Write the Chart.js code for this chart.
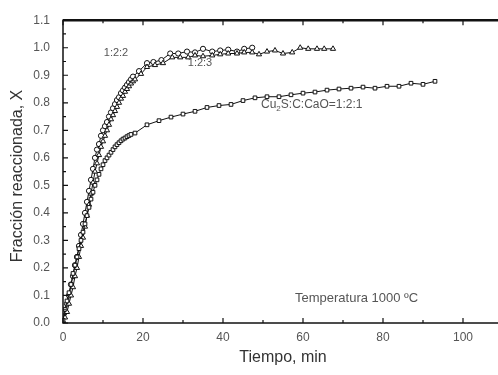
<!DOCTYPE html>
<html>
<head>
<meta charset="utf-8">
<script src="https://cdn.jsdelivr.net/npm/chart.js@4.4.0/dist/chart.umd.min.js"></script>
<style>
  html, body { margin: 0; padding: 0; background: #fff; overflow: hidden; }
  #grafica { display: block; }
</style>
</head>
<body>
<canvas id="grafica" width="510" height="375"></canvas>
<script>
// tiempo (min) y fraccion reaccionada X
var tiempo122 = [0, 0.5, 1, 1.5, 2, 2.5, 3, 3.5, 4, 4.5, 5, 5.5, 6, 6.5, 7, 7.5, 8, 8.5, 9, 9.5,
	10, 10.5, 11, 11.5, 12, 12.5, 13, 13.5, 14, 14.5, 15, 15.5, 16, 16.5, 17, 17.5,
	19, 21, 22.6, 24.6, 26.8, 28.8, 31, 33, 35, 37.3, 39.3, 41.3, 43.5, 45.3, 47.3];
var fraccion122 = [0.00, 0.04, 0.07, 0.10, 0.14, 0.17, 0.21, 0.24, 0.28, 0.32, 0.36, 0.40, 0.44, 0.48, 0.52, 0.56, 0.60, 0.63, 0.65, 0.68,
	0.70, 0.715, 0.73, 0.75, 0.765, 0.78, 0.795, 0.81, 0.82, 0.835, 0.845, 0.855, 0.865, 0.875, 0.885, 0.895,
	0.915, 0.944, 0.948, 0.955, 0.979, 0.979, 0.986, 0.983, 0.996, 0.986, 0.990, 0.993, 0.986, 0.996, 1.000];

var tiempo123 = [0, 0.5, 1, 1.5, 2, 2.5, 3, 3.5, 4, 4.5, 5, 5.5, 6, 6.5, 7, 7.5, 8, 8.5, 9, 9.5,
	10, 10.5, 11, 11.5, 12, 12.5, 13, 13.5, 14, 14.5, 15, 15.5, 16, 16.5, 17, 17.5, 18,
	19.5, 21, 23, 25, 27.3, 29.3, 31.3, 33, 35, 37.3, 39.3, 41.3, 43.5, 45.3, 47.3, 49, 51, 53, 55,
	57.3, 59.3, 61.3, 63.5, 65.3, 67.5];
var fraccion123 = [0.00, 0.02, 0.04, 0.07, 0.10, 0.13, 0.17, 0.20, 0.24, 0.28, 0.31, 0.35, 0.39, 0.43, 0.47, 0.51, 0.55, 0.58, 0.61, 0.64,
	0.66, 0.68, 0.70, 0.72, 0.74, 0.755, 0.77, 0.785, 0.80, 0.815, 0.825, 0.84, 0.85, 0.86, 0.87, 0.878, 0.885,
	0.905, 0.93, 0.937, 0.944, 0.965, 0.965, 0.965, 0.972, 0.969, 0.972, 0.976, 0.979, 0.979, 0.983, 0.983, 0.976, 0.986, 0.990, 0.979,
	0.983, 1.000, 0.996, 0.996, 0.996, 0.996];

var tiempo121 = [0, 0.5, 1, 1.5, 2, 2.5, 3, 3.5, 4, 4.5, 5, 5.5, 6, 6.5, 7, 7.5, 8, 8.5, 9, 9.5,
	10, 10.5, 11, 11.5, 12, 12.5, 13, 13.5, 14, 14.5, 15, 15.5, 16, 16.5, 17,
	18, 21, 24, 27, 30, 33, 36, 39, 42, 45, 48, 51, 54, 57, 60, 63, 66, 69, 72, 75, 78, 81, 84, 87, 90, 93];
var fraccion121 = [0.01, 0.05, 0.08, 0.11, 0.14, 0.18, 0.21, 0.24, 0.27, 0.30, 0.33, 0.36, 0.39, 0.42, 0.45, 0.475, 0.50, 0.52, 0.54, 0.56,
	0.575, 0.59, 0.60, 0.61, 0.62, 0.63, 0.64, 0.648, 0.655, 0.662, 0.668, 0.672, 0.677, 0.681, 0.685,
	0.69, 0.72, 0.735, 0.748, 0.759, 0.769, 0.783, 0.79, 0.794, 0.808, 0.818, 0.822, 0.822, 0.829, 0.835, 0.839, 0.846, 0.85, 0.853, 0.857,
	0.853, 0.86, 0.86, 0.871, 0.867, 0.878];

var ticksX = [0, 20, 40, 60, 80, 100];
var ticksY = [0.0, 0.1, 0.2, 0.3, 0.4, 0.5, 0.6, 0.7, 0.8, 0.9, 1.0, 1.1];

function puntos(tt, xx) {
	var d = [];
	for (var i = 0; i < tt.length; i++) {
		d.push({x: tt[i], y: xx[i]});
	}
	return d;
}

function serie(tt, xx, estilo, radio) {
	return {
		data: puntos(tt, xx),
		showLine: true,
		borderColor: '#111',
		borderWidth: 1,
		pointStyle: estilo,
		pointRadius: radio,
		pointBorderWidth: 1,
		pointBorderColor: '#111',
		pointBackgroundColor: '#fff',
		tension: 0
	};
}

// marco, marcas hacia dentro y textos
var marco = {
	id: 'marco',
	afterDraw: function(chart) {
		var c = chart.ctx, a = chart.chartArea;
		var sx = chart.scales.x, sy = chart.scales.y;
		c.save();
		c.strokeStyle = '#111';
		c.lineWidth = 1.5;
		c.strokeRect(a.left, a.top, a.right - a.left, a.bottom - a.top);
		c.lineWidth = 2.5;
		c.beginPath(); c.moveTo(a.left, a.top); c.lineTo(a.right, a.top); c.stroke();

		c.lineWidth = 1.2;
		for (var v = 0; v <= 110; v += 10) {
			var px = sx.getPixelForValue(v);
			var l = (v % 20 === 0) ? 5 : 3;
			c.beginPath();
			c.moveTo(px, a.bottom); c.lineTo(px, a.bottom - l);
			c.moveTo(px, a.top); c.lineTo(px, a.top + l);
			c.stroke();
		}
		for (var k = 0; k <= 22; k++) {
			var py = sy.getPixelForValue(k * 0.05);
			var m = (k % 2 === 0) ? 5 : 3;
			c.beginPath();
			c.moveTo(a.left, py); c.lineTo(a.left + m, py);
			c.moveTo(a.right, py); c.lineTo(a.right - m, py);
			c.stroke();
		}

		c.fillStyle = '#333';
		c.font = '16px "Liberation Sans", Arial, sans-serif';
		c.textAlign = 'center';
		c.textBaseline = 'middle';
		c.fillText('Tiempo, min', 283, 358);
		c.save();
		c.translate(18, 176);
		c.rotate(-Math.PI / 2);
		c.fillText('Fracción reaccionada, X', 0, 0);
		c.restore();

		c.fillStyle = '#555';
		c.font = '11px "Liberation Sans", Arial, sans-serif';
		c.fillText('1:2:2', 116, 53);
		c.fillText('1:2:3', 200, 63);

		c.textAlign = 'left';
		c.font = '12px "Liberation Sans", Arial, sans-serif';
		var x0 = 261, y0 = 105;
		c.fillText('Cu', x0, y0);
		x0 += c.measureText('Cu').width;
		c.font = '8px "Liberation Sans", Arial, sans-serif';
		c.fillText('2', x0, y0 + 4);
		x0 += c.measureText('2').width;
		c.font = '12px "Liberation Sans", Arial, sans-serif';
		c.fillText('S:C:CaO=1:2:1', x0, y0);

		c.font = '13px "Liberation Sans", Arial, sans-serif';
		c.fillText('Temperatura 1000 ºC', 295, 298);
		c.restore();
	}
};

var canvas = document.getElementById('grafica').getContext('2d');

var grafica = new Chart(canvas, {
	type: 'scatter',
	data: {
		datasets: [
			serie(tiempo121, fraccion121, 'rect', 2.6),
			serie(tiempo123, fraccion123, 'triangle', 3),
			serie(tiempo122, fraccion122, 'circle', 2.6)
		]
	},
	options: {
		responsive: false,
		animation: false,
		devicePixelRatio: 1,
		layout: { padding: { left: 0, top: 8, right: 7, bottom: 0 } },
		plugins: { legend: { display: false }, tooltip: { enabled: false } },
		scales: {
			x: {
				type: 'linear', min: 0, max: 110,
				grid: { display: false, drawTicks: false },
				border: { display: false },
				afterFit: function(s) { s.height = 52; },
				afterBuildTicks: function(s) { s.ticks = ticksX.map(function(v) { return {value: v}; }); },
				ticks: {
					padding: 7,
					color: '#555',
					font: { family: '"Liberation Sans", Arial, sans-serif', size: 12 },
					callback: function(v) { return String(v); }
				}
			},
			y: {
				type: 'linear', min: 0, max: 1.1,
				grid: { display: false, drawTicks: false },
				border: { display: false },
				afterFit: function(s) { s.width = 63; },
				afterBuildTicks: function(s) { s.ticks = ticksY.map(function(v) { return {value: v}; }); },
				ticks: {
					padding: 13,
					color: '#555',
					font: { family: '"Liberation Sans", Arial, sans-serif', size: 12 },
					callback: function(v) { return Number(v).toFixed(1); }
				}
			}
		}
	},
	plugins: [marco]
});
</script>
</body>
</html>
